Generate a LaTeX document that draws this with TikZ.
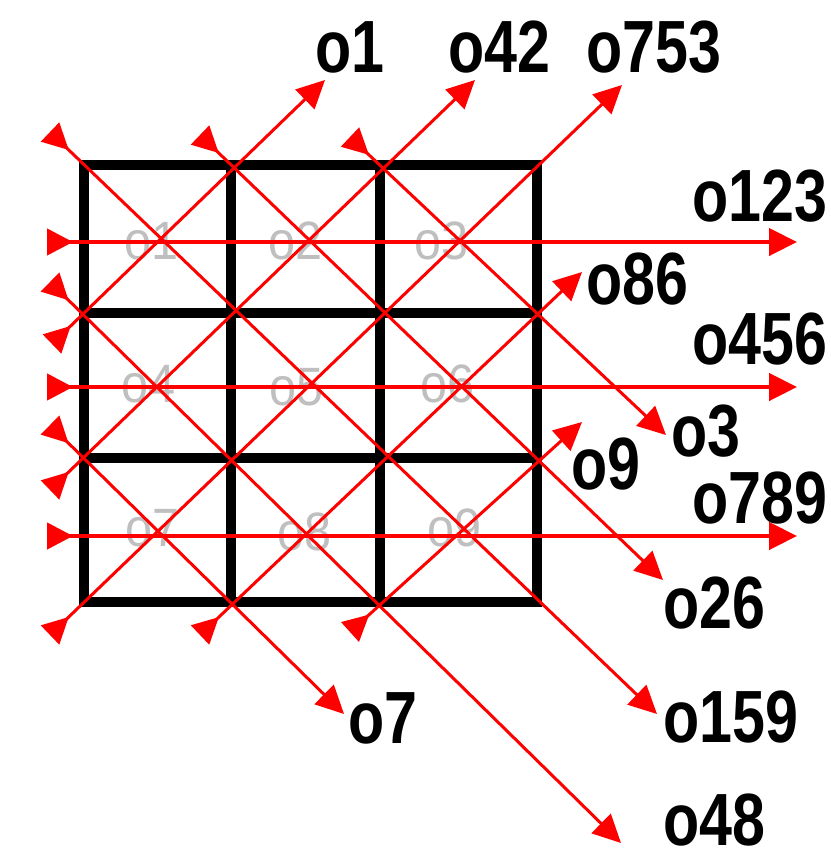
\documentclass[tikz,border=0pt]{standalone}
\usepackage{fontspec}
\setmainfont{Liberation Sans}
\usetikzlibrary{arrows.meta}
\newcommand\narrowtext[2]{\scalebox{#1}[1]{#2}}

\begin{document}
\begin{tikzpicture}[x=1pt,y=-1pt,
  ray/.style={red, line width=3pt,
    {Triangle[reversed,length=26pt,width=26pt]}-{Triangle[length=28pt,width=27pt]}},
  hray/.style={ray, line width=4.5pt},
  gridline/.style={black, line width=10pt, line cap=rect},
  tag/.style={inner sep=0pt, anchor=west, text=black,
    font=\bfseries\fontsize{74}{74}\selectfont},
  celltag/.style={inner sep=0pt, text=black!25,
    font=\fontsize{54}{54}\selectfont}]
\useasboundingbox (0,0) rectangle (830,854);

% faint cell names
\node[celltag] (c1) at (152,241) {\narrowtext{0.9}{o1}};
\node[celltag] (c2) at (296,241) {\narrowtext{0.9}{o2}};
\node[celltag] (c3) at (442,241) {\narrowtext{0.9}{o3}};
\node[celltag] (c4) at (149,384) {\narrowtext{0.9}{o4}};
\node[celltag] (c5) at (297,387) {\narrowtext{0.9}{o5}};
\node[celltag] (c6) at (448,384) {\narrowtext{0.9}{o6}};
\node[celltag] (c7) at (153,528) {\narrowtext{0.9}{o7}};
\node[celltag] (c8) at (305,532) {\narrowtext{0.9}{o8}};
\node[celltag] (c9) at (455,528) {\narrowtext{0.9}{o9}};

% 3x3 grid
\foreach \gx in {84,231,380,537} \draw[gridline] (\gx,165) -- (\gx,602);
\foreach \gy in {165,313,458,602} \draw[gridline] (84,\gy) -- (537,\gy);

% ray end points
\coordinate (h1s) at (47,242);  \coordinate (h1e) at (797,242);
\coordinate (h2s) at (47,387);  \coordinate (h2e) at (797,387);
\coordinate (h3s) at (47,536);  \coordinate (h3e) at (797,536);

\coordinate (d1s) at (50,132);  \coordinate (d1e) at (657,714);
\coordinate (d2s) at (200,135); \coordinate (d2e) at (663,580);
\coordinate (d3s) at (350,137); \coordinate (d3e) at (666,435);
\coordinate (d4s) at (50,282);  \coordinate (d4e) at (621,843);
\coordinate (d5s) at (50,425);  \coordinate (d5e) at (344,714);

\coordinate (u1s) at (52,344);  \coordinate (u1e) at (325,80);
\coordinate (u2s) at (50,490);  \coordinate (u2e) at (475,80);
\coordinate (u3s) at (50,635);  \coordinate (u3e) at (622,85);
\coordinate (u4s) at (200,635); \coordinate (u4e) at (582,272);
\coordinate (u5s) at (350,632); \coordinate (u5e) at (582,422);

% rays
\draw[hray] (h1s) -- (h1e);
\draw[hray] (h2s) -- (h2e);
\draw[hray] (h3s) -- (h3e);
\foreach \r in {d1,d2,d3,d4,d5,u1,u2,u3,u4,u5}
  \draw[ray] (\r s) -- (\r e);

% ray names
\node[tag] (t1)   at (315,47)  {\narrowtext{0.8}{o1}};
\node[tag] (t42)  at (448,47)  {\narrowtext{0.8}{o42}};
\node[tag] (t753) at (586,47)  {\narrowtext{0.8}{o753}};
\node[tag] (t123) at (692,196) {\narrowtext{0.8}{o123}};
\node[tag] (t86)  at (586,279) {\narrowtext{0.8}{o86}};
\node[tag] (t456) at (692,339) {\narrowtext{0.8}{o456}};
\node[tag] (t3)   at (671,431) {\narrowtext{0.8}{o3}};
\node[tag] (t9)   at (571,464) {\narrowtext{0.8}{o9}};
\node[tag] (t789) at (692,498) {\narrowtext{0.8}{o789}};
\node[tag] (t26)  at (663,603) {\narrowtext{0.8}{o26}};
\node[tag] (t159) at (663,717) {\narrowtext{0.8}{o159}};
\node[tag] (t7)   at (348,718) {\narrowtext{0.8}{o7}};
\node[tag] (t48)  at (663,820) {\narrowtext{0.8}{o48}};
\end{tikzpicture}
\end{document}
